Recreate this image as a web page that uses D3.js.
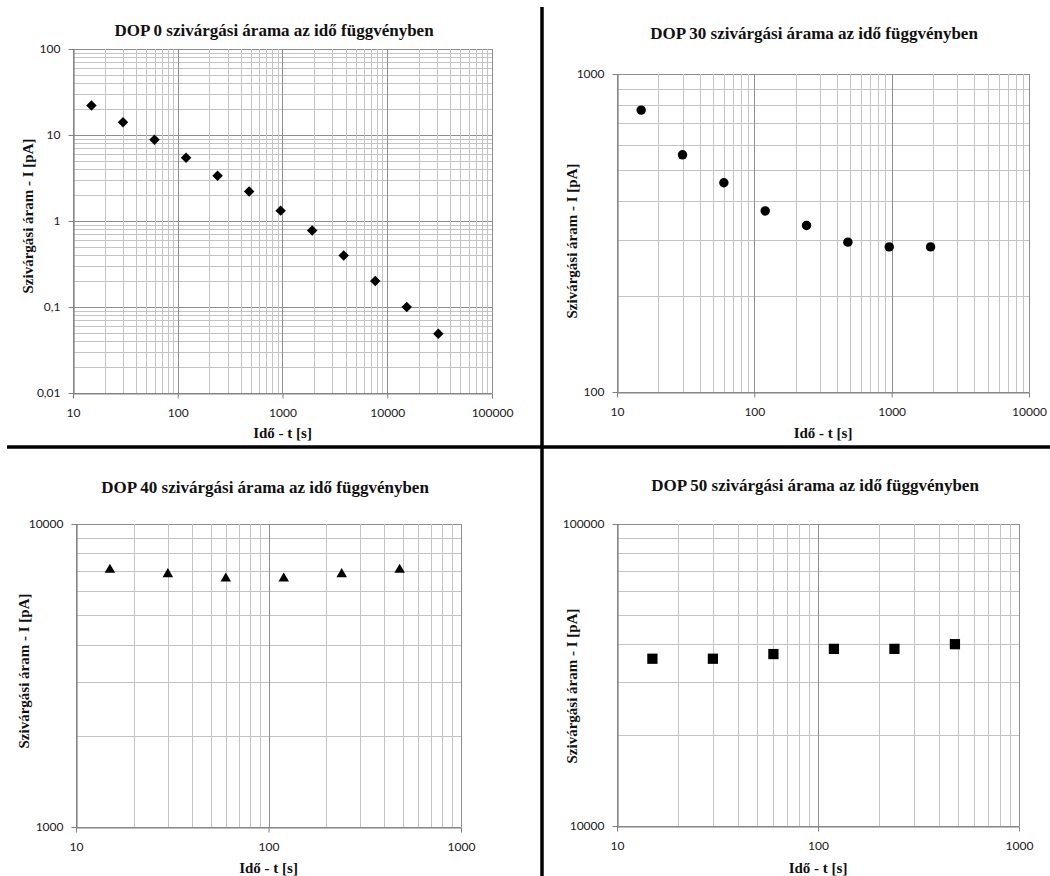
<!DOCTYPE html>
<html><head><meta charset="utf-8">
<script src="https://cdn.jsdelivr.net/npm/d3@7"></script>
<style>body{margin:0;background:#fff}</style>
</head><body><svg id="c" width="1050" height="876"></svg>
<script>
// ---- data ----
const titles = [
  "DOP 0 szivárgási árama az idő függvényben",
  "DOP 30 szivárgási árama az idő függvényben",
  "DOP 40 szivárgási árama az idő függvényben",
  "DOP 50 szivárgási árama az idő függvényben"
];
const xAxisTitle = "Idő - t [s]";
const yAxisTitle = "Szivárgási áram - I [pA]";

const times0 = [15, 30, 60, 120, 240, 480, 960, 1920, 3840, 7680, 15360, 30720];
const current0 = [22.1, 14.1, 8.8, 5.43, 3.36, 2.2, 1.32, 0.775, 0.397, 0.2, 0.1, 0.049];
const times30 = [15, 30, 60, 120, 240, 480, 960, 1920];
const current30 = [770, 557, 455, 371, 334, 296, 286, 286];
const times40 = [15, 30, 60, 120, 240, 480];
const current40 = [7060, 6830, 6610, 6610, 6830, 7060];
const times50 = [15, 30, 60, 120, 240, 480];
const current50 = [35800, 35800, 37100, 38600, 38600, 40000];

const xDomain0 = [10, 100000], yDomain0 = [0.01, 100];
const xDomain30 = [10, 10000], yDomain30 = [100, 1000];
const xDomain40 = [10, 1000], yDomain40 = [1000, 10000];
const xDomain50 = [10, 1000], yDomain50 = [10000, 100000];

// ---- layout ----
const svg = d3.select("#c");
const loc = d3.formatLocale({decimal: ",", thousands: "", grouping: [3], currency: ["", ""]});
const fmt = loc.format("~g");

const panels = [
  {t: times0, v: current0, xd: xDomain0, yd: yDomain0, title: titles[0], marker: "diamond",
   L: 73, R: 492, T: 49, B: 393, titleX: 274, titleY: 36, yTitleX: 33, yTitleY: 216, xTitleY: 438},
  {t: times30, v: current30, xd: xDomain30, yd: yDomain30, title: titles[1], marker: "circle",
   L: 617, R: 1029, T: 74, B: 392, titleX: 814, titleY: 39, yTitleX: 577, yTitleY: 241, xTitleY: 438},
  {t: times40, v: current40, xd: xDomain40, yd: yDomain40, title: titles[2], marker: "triangle",
   L: 76, R: 461, T: 524, B: 827, titleX: 265, titleY: 493, yTitleX: 29, yTitleY: 671, xTitleY: 873},
  {t: times50, v: current50, xd: xDomain50, yd: yDomain50, title: titles[3], marker: "square",
   L: 617, R: 1019, T: 524, B: 826, titleX: 815, titleY: 491, yTitleX: 577, yTitleY: 686, xTitleY: 873}
];

function logValues(dom) {
  const out = [];
  const lo = Math.round(Math.log10(dom[0])), hi = Math.round(Math.log10(dom[1]));
  for (let e = lo; e < hi; e++) for (let k = 1; k <= 9; k++) out.push({v: k * Math.pow(10, e), major: k === 1});
  out.push({v: Math.pow(10, hi), major: true});
  return out;
}
function majors(dom) {
  const out = [];
  const lo = Math.round(Math.log10(dom[0])), hi = Math.round(Math.log10(dom[1]));
  for (let e = lo; e <= hi; e++) out.push(Math.pow(10, e));
  return out;
}

const symbols = {
  diamond: d3.symbol().type(d3.symbolSquare).size(55),
  circle: d3.symbol().type(d3.symbolCircle).size(70),
  triangle: d3.symbol().type(d3.symbolTriangle).size(48),
  square: d3.symbol().type(d3.symbolSquare).size(105)
};

panels.forEach(p => {
  const x = d3.scaleLog().domain(p.xd).range([p.L, p.R]);
  const y = d3.scaleLog().domain(p.yd).range([p.B, p.T]);
  const g = svg.append("g");

  // grid
  const xg = logValues(p.xd), yg = logValues(p.yd);
  const order = arr => arr.filter(d => !d.major).concat(arr.filter(d => d.major));
  g.append("g").selectAll("line").data(order(yg)).join("line")
    .attr("x1", p.L).attr("x2", p.R)
    .attr("y1", d => Math.round(y(d.v)) + 0.5).attr("y2", d => Math.round(y(d.v)) + 0.5)
    .attr("stroke", d => d.major ? "#8e8e8e" : "#c4c4c4").attr("stroke-width", 1);
  g.append("g").selectAll("line").data(order(xg)).join("line")
    .attr("y1", p.T).attr("y2", p.B)
    .attr("x1", d => Math.round(x(d.v)) + 0.5).attr("x2", d => Math.round(x(d.v)) + 0.5)
    .attr("stroke", d => d.major ? "#8e8e8e" : "#c4c4c4").attr("stroke-width", 1);

  // axes
  const ax = g.append("g").attr("transform", `translate(0,${Math.round(p.B) + 0.5})`)
    .call(d3.axisBottom(x).tickValues(majors(p.xd)).tickFormat(fmt).tickSize(5).tickSizeOuter(0).tickPadding(10));
  const ay = g.append("g").attr("transform", `translate(${Math.round(p.L) + 0.5},0)`)
    .call(d3.axisLeft(y).tickValues(majors(p.yd)).tickFormat(fmt).tickSize(5).tickSizeOuter(0).tickPadding(8));
  [ax, ay].forEach(a => {
    a.select(".domain").attr("stroke", "#808080").attr("stroke-width", 1.2);
    a.selectAll(".tick line").attr("stroke", "#808080");
    a.selectAll(".tick text").attr("fill", "#1a1a1a").style("font-family", "Lato, 'Liberation Sans', sans-serif").style("font-size", "12px");
  });

  // markers
  g.append("g").selectAll("path").data(p.t.map((t, i) => ({t, v: p.v[i]}))).join("path")
    .attr("d", symbols[p.marker])
    .attr("transform", d => `translate(${x(d.t)},${y(d.v)})` + (p.marker === "diamond" ? " rotate(45)" : ""))
    .attr("fill", "#000");

  // titles
  g.append("text").attr("x", p.titleX).attr("y", p.titleY).attr("text-anchor", "middle")
    .style("font-family", "'Liberation Serif', serif").style("font-weight", "bold").style("font-size", "17px")
    .attr("fill", "#111").text(p.title);
  g.append("text").attr("x", (p.L + p.R) / 2).attr("y", p.xTitleY).attr("text-anchor", "middle")
    .style("font-family", "'Liberation Serif', serif").style("font-weight", "bold").style("font-size", "15px")
    .attr("fill", "#111").text(xAxisTitle);
  g.append("text").attr("transform", `translate(${p.yTitleX},${p.yTitleY}) rotate(-90)`).attr("text-anchor", "middle")
    .style("font-family", "'Liberation Serif', serif").style("font-weight", "bold").style("font-size", "15px")
    .attr("fill", "#111").text(yAxisTitle);
});

// dividers
svg.append("line").attr("x1", 542).attr("x2", 542).attr("y1", 7).attr("y2", 876).attr("stroke", "#000").attr("stroke-width", 3.5);
svg.append("line").attr("x1", 7).attr("x2", 1050).attr("y1", 447).attr("y2", 447).attr("stroke", "#000").attr("stroke-width", 3.5);
</script>
</body></html>
